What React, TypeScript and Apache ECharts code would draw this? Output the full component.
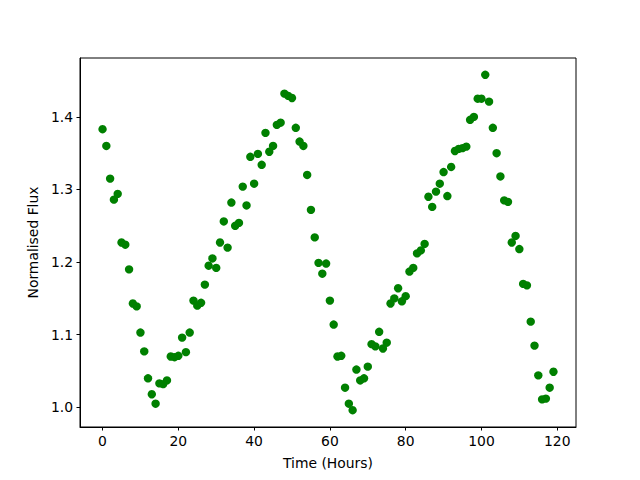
import React, { useEffect, useRef } from "react";
import * as echarts from "echarts";

const hours: number[] = Array.from({ length: 120 }, (_, i) => i);

const flux: number[] = [
  1.383, 1.360, 1.315, 1.286, 1.294, 1.227, 1.224, 1.190, 1.143, 1.139,
  1.103, 1.077, 1.040, 1.018, 1.005, 1.033, 1.032, 1.037, 1.070, 1.069,
  1.071, 1.096, 1.076, 1.103, 1.147, 1.140, 1.144, 1.169, 1.195, 1.205,
  1.192, 1.227, 1.256, 1.220, 1.282, 1.250, 1.254, 1.304, 1.278, 1.345,
  1.308, 1.349, 1.334, 1.378, 1.352, 1.360, 1.389, 1.392, 1.432, 1.429,
  1.426, 1.385, 1.366, 1.360, 1.320, 1.272, 1.234, 1.199, 1.184, 1.198,
  1.147, 1.114, 1.070, 1.071, 1.027, 1.005, 0.996, 1.052, 1.037, 1.040,
  1.056, 1.087, 1.084, 1.104, 1.081, 1.089, 1.143, 1.150, 1.164, 1.146,
  1.153, 1.187, 1.192, 1.212, 1.216, 1.225, 1.290, 1.276, 1.297, 1.308,
  1.324, 1.291, 1.331, 1.353, 1.356, 1.357, 1.359, 1.396, 1.400, 1.425,
  1.425, 1.458, 1.421, 1.385, 1.350, 1.318, 1.285, 1.283, 1.227, 1.236,
  1.218, 1.170, 1.168, 1.118, 1.085, 1.044, 1.011, 1.012, 1.027, 1.049,
];

const xTicks: number[] = [0, 20, 40, 60, 80, 100, 120];
const yTicks: number[] = [1.0, 1.1, 1.2, 1.3, 1.4];

const xTitle = "Time (Hours)";
const yTitle = "Normalised Flux";

export default function App() {
  const ref = useRef<HTMLDivElement>(null);
  useEffect(() => {
    if (!ref.current) return;
    const chart = echarts.init(ref.current, null, { renderer: "svg" });
    const font = "DejaVu Sans";
    const xMin = Math.min(...hours), xMax = Math.max(...hours);
    const yMin = Math.min(...flux), yMax = Math.max(...flux);
    const xm = (xMax - xMin) * 0.05, ym = (yMax - yMin) * 0.05;
    chart.setOption({
      animation: false,
      backgroundColor: "#ffffff",
      grid: {
        left: 80, right: 64, top: 58, bottom: 53,
        show: true, borderColor: "#000000", borderWidth: 1, backgroundColor: "transparent",
      },
      xAxis: {
        type: "value",
        min: xMin - xm,
        max: xMax + xm,
        splitLine: { show: false },
        axisLine: { show: true, onZero: false, lineStyle: { color: "#000", width: 1 } },
        axisTick: { show: true, inside: false, length: 3.5, customValues: xTicks, lineStyle: { color: "#000" } },
        axisLabel: {
          customValues: xTicks, margin: 7, color: "#000", fontFamily: font, fontSize: 13.9,
          formatter: (v: number) => String(Math.round(v)),
        },
        name: xTitle,
        nameLocation: "middle",
        nameGap: 29,
        nameTextStyle: { color: "#000", fontFamily: font, fontSize: 13.9, verticalAlign: "top" },
      },
      yAxis: {
        type: "value",
        min: yMin - ym,
        max: yMax + ym,
        splitLine: { show: false },
        axisLine: { show: true, onZero: false, lineStyle: { color: "#000", width: 1 } },
        axisTick: { show: true, inside: false, length: 3.5, customValues: yTicks, lineStyle: { color: "#000" } },
        axisLabel: {
          customValues: yTicks, margin: 7, color: "#000", fontFamily: font, fontSize: 13.9,
          formatter: (v: number) => v.toFixed(1),
        },
        name: yTitle,
        nameLocation: "middle",
        nameGap: 38,
        nameRotate: 90,
        nameTextStyle: { color: "#000", fontFamily: font, fontSize: 13.9, verticalAlign: "bottom" },
      },
      series: [
        {
          type: "scatter",
          data: hours.map((h, i) => [h, flux[i]]),
          symbol: "circle",
          symbolSize: 8.4,
          itemStyle: { color: "#008000", opacity: 1 },
          emphasis: { disabled: true },
        },
      ],
    });
    return () => chart.dispose();
  }, []);
  return <div ref={ref} style={{ width: 640, height: 480, position: "absolute", left: 0, top: 0 }} />;
}
